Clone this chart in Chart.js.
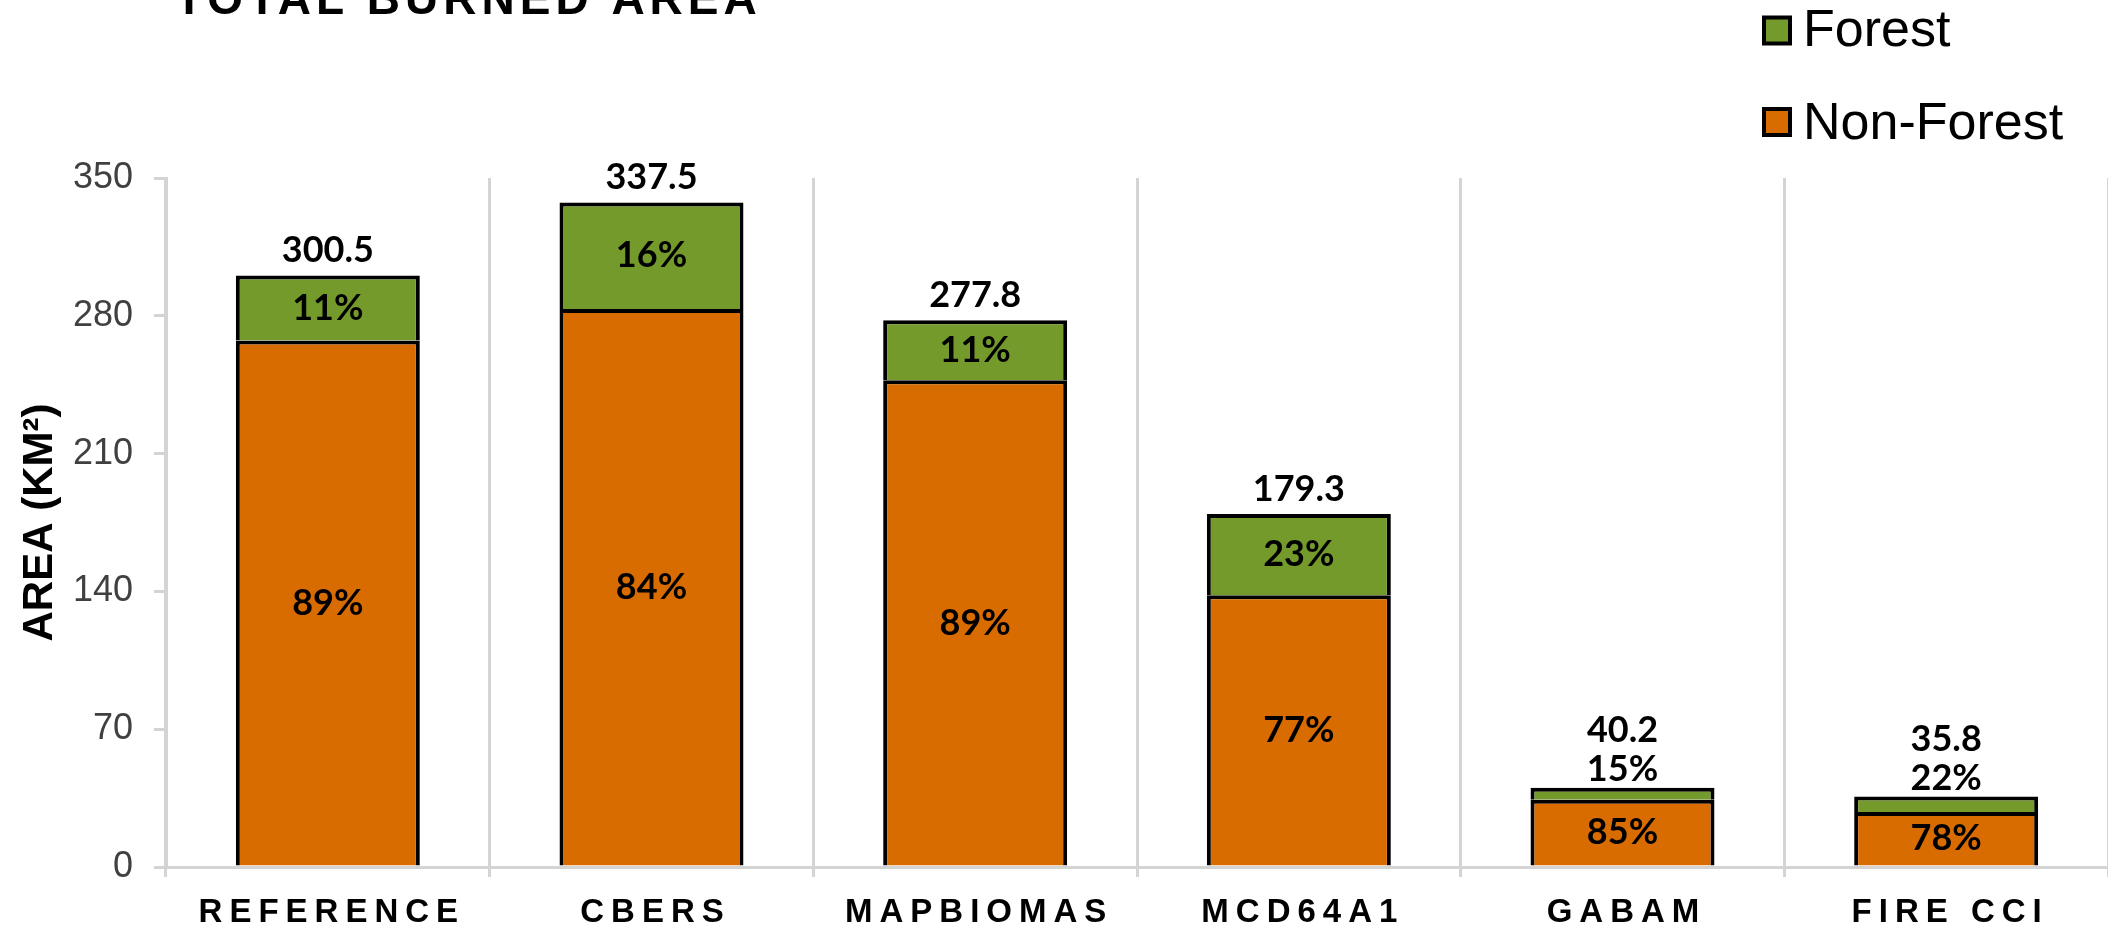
<!DOCTYPE html>
<html><head><meta charset="utf-8">
<script src="https://cdn.jsdelivr.net/npm/chart.js@4.4.0/dist/chart.umd.min.js"></script>
<style>html,body{margin:0;padding:0;background:#fff;overflow:hidden}#wrap{width:2108px;height:927px;position:relative}canvas{display:block}</style>
</head><body><div id="wrap"><canvas id="c" width="2108" height="927"></canvas></div>
<script>
const categories = ['REFERENCE', 'CBERS', 'MAPBIOMAS', 'MCD64A1', 'GABAM', 'FIRE CCI'];
const nonForest = [267.4, 283.5, 247.2, 138.1, 34.2, 27.9];
const forest = [33.1, 54.0, 30.6, 41.2, 6.0, 7.9];
const yTicks = [0, 70, 140, 210, 280, 350];
const seriesNames = ['Non-Forest', 'Forest'];
const seriesColors = ['#D96C00', '#739A2B'];
const titleText = 'TOTAL BURNED AREA';
const yTitle = 'AREA (KM²)';

const labelPlugin = {
  id: 'customLabels',
  afterDatasetsDraw(chart) {
    const ctx = chart.ctx;
    const m0 = chart.getDatasetMeta(0), m1 = chart.getDatasetMeta(1);
    ctx.save();
    ctx.fillStyle = '#000';
    ctx.font = 'bold 36px Lato';
    ctx.textAlign = 'center';
    ctx.textBaseline = 'middle';
    for (let i = 0; i < categories.length; i++) {
      const total = nonForest[i] + forest[i];
      const b0 = m0.data[i], b1 = m1.data[i];
      const x = b0.x;
      ctx.fillText(Math.round(nonForest[i] / total * 100) + '%', x, (b0.y + b0.base) / 2);
      const fPct = Math.round(forest[i] / total * 100) + '%';
      const segH = b1.base - b1.y;
      if (segH > 40) {
        ctx.fillText(fPct, x, (b1.y + b1.base) / 2);
        ctx.fillText(total.toFixed(1), x, b1.y - 25);
      } else {
        ctx.fillText(fPct, x, b1.y - 18);
        ctx.fillText(total.toFixed(1), x, b1.y - 57);
      }
    }
    ctx.restore();
    ctx.letterSpacing = '7px';
  },
  afterDraw(chart) {
    const ctx = chart.ctx;
    ctx.letterSpacing = '0px';
    ctx.save();
    const ds = chart.data.datasets;
    const order = [1, 0];
    const rows = [{cy: 30.5, base: 46}, {cy: 122, base: 139}];
    order.forEach((di, k) => {
      const r = rows[k];
      ctx.fillStyle = ds[di].backgroundColor;
      ctx.strokeStyle = '#000';
      ctx.lineWidth = 4;
      ctx.fillRect(1764, r.cy - 13, 26, 26);
      ctx.strokeRect(1764, r.cy - 13, 26, 26);
      ctx.fillStyle = '#000';
      ctx.font = '52px Arial';
      ctx.textAlign = 'left';
      ctx.textBaseline = 'alphabetic';
      ctx.fillText(ds[di].label, 1803, r.base);
    });
    ctx.letterSpacing = '5px';
    ctx.font = 'bold 46px Arial';
    ctx.fillStyle = '#000';
    ctx.textAlign = 'left';
    ctx.textBaseline = 'alphabetic';
    ctx.fillText(titleText, 175, 14);
    ctx.restore();
    ctx.letterSpacing = '0px';
  }
};

new Chart(document.getElementById('c'), {
  type: 'bar',
  data: {
    labels: categories,
    datasets: [
      {label: seriesNames[0], data: nonForest, backgroundColor: seriesColors[0], borderColor: '#000', borderWidth: 4, barPercentage: 0.5685, categoryPercentage: 1.0},
      {label: seriesNames[1], data: forest, backgroundColor: seriesColors[1], borderColor: '#000', borderWidth: 4, barPercentage: 0.5685, categoryPercentage: 1.0}
    ]
  },
  options: {
    responsive: false,
    animation: false,
    devicePixelRatio: 1,
    layout: {padding: {top: 178, bottom: 0, left: 0, right: 0}},
    plugins: {legend: {display: false}, title: {display: false}, tooltip: {enabled: false}},
    scales: {
      x: {
        stacked: true,
        grid: {offset: true, color: '#d4d4d4', lineWidth: 3, tickLength: 10, drawOnChartArea: true, drawTicks: true},
        border: {color: '#d4d4d4', width: 3},
        ticks: {z: 1, font: {family: 'Arial', weight: 'bold', size: 33}, color: '#000', padding: 16, labelOffset: 4, autoSkip: false, maxRotation: 0, minRotation: 0},
        afterFit(s) { s.height = 60; }
      },
      y: {
        stacked: true,
        min: 0, max: 350,
        afterBuildTicks(s) { s.ticks = yTicks.map(v => ({value: v})); },
        grid: {drawOnChartArea: false, drawTicks: true, tickLength: 12, color: '#d4d4d4', lineWidth: 3},
        border: {color: '#d4d4d4', width: 3},
        ticks: {font: {family: 'Arial', size: 36}, color: '#404040', padding: 21},
        title: {display: true, text: yTitle, font: {family: 'Arial', weight: 'bold', size: 42}, color: '#000', padding: {top: 15, bottom: 0}},
        afterFit(s) { s.width = 166; }
      }
    }
  },
  plugins: [labelPlugin]
});
</script>
</body></html>
